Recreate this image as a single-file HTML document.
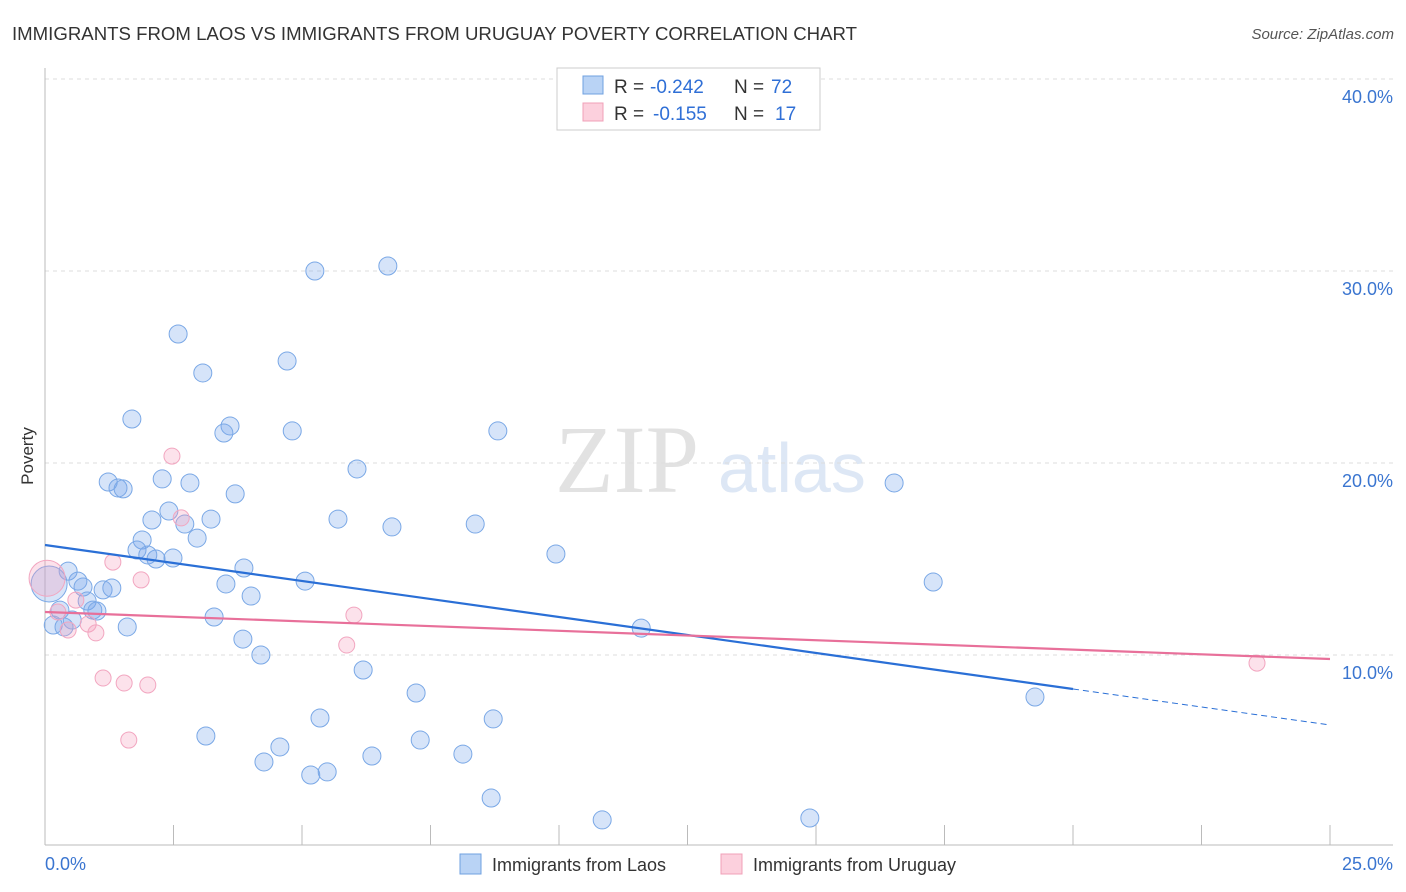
<!DOCTYPE html>
<html><head><meta charset="utf-8"><style>
body{margin:0;background:#fff;font-family:"Liberation Sans",sans-serif;}
svg{display:block}
</style></head><body>
<svg id="chart" width="1406" height="892" xmlns="http://www.w3.org/2000/svg" font-family="Liberation Sans, sans-serif">
<text x="12" y="40" font-size="18" fill="#333" textLength="845" lengthAdjust="spacingAndGlyphs">IMMIGRANTS FROM LAOS VS IMMIGRANTS FROM URUGUAY POVERTY CORRELATION CHART</text>
<text x="1394" y="39" font-size="15" fill="#555" font-style="italic" text-anchor="end">Source: ZipAtlas.com</text>
<text x="555" y="492" font-size="96" fill="#e2e2e2" font-family="Liberation Serif, serif">ZIP</text>
<text x="718" y="492" font-size="70" fill="#dde7f5">atlas</text>
<text transform="translate(33,456) rotate(-90)" font-size="17" fill="#333" text-anchor="middle">Poverty</text>
<g id="grid"></g><g id="axes"></g><g id="marks"></g>
<g>
<rect x="557" y="68" width="263" height="62" fill="#fff" stroke="#ccc"/>
<rect x="583" y="76" width="20" height="18" fill="#b9d3f5" stroke="#6fa0e0"/>
<rect x="583" y="103" width="20" height="18" fill="#fcd0dd" stroke="#f0a0b8"/>
<text x="614" y="93" font-size="19" fill="#333">R =</text>
<text x="650" y="93" font-size="19" fill="#2f6fd6">-0.242</text>
<text x="734" y="93" font-size="19" fill="#333">N =</text>
<text x="771" y="93" font-size="19" fill="#2f6fd6">72</text>
<text x="614" y="120" font-size="19" fill="#333">R =</text>
<text x="653" y="120" font-size="19" fill="#2f6fd6">-0.155</text>
<text x="734" y="120" font-size="19" fill="#333">N =</text>
<text x="775" y="120" font-size="19" fill="#2f6fd6">17</text>
</g>
<g>
<rect x="460" y="854" width="21" height="20" fill="#b9d3f5" stroke="#6fa0e0"/>
<text x="492" y="871" font-size="18" fill="#333">Immigrants from Laos</text>
<rect x="721" y="854" width="21" height="20" fill="#fcd0dd" stroke="#f0a0b8"/>
<text x="753" y="871" font-size="18" fill="#333">Immigrants from Uruguay</text>
</g>
</svg>
<script>
const yTicks=[10,20,30,40];
const yTickLabels=["10.0%","20.0%","30.0%","40.0%"];
const xTicks=[0,2.5,5,7.5,10,12.5,15,17.5,20,22.5,25];
const laosX=[5.25,6.67,2.59,4.71,3.07,1.69,3.60,3.48,4.81,8.81,6.07,1.23,2.28,1.42,1.52,2.82,3.70,16.52,2.41,2.08,3.23,2.72,5.70,6.75,8.37,2.96,1.89,1.79,2.00,2.16,2.49,9.94,3.87,0.45,0.64,0.74,5.06,3.52,17.28,1.13,1.30,0.08,4.01,0.82,0.93,1.01,0.29,3.29,0.53,0.16,0.37,1.60,11.6,3.85,4.20,6.19,7.22,19.26,5.35,8.72,3.13,7.30,4.57,6.36,8.13,4.26,5.49,5.17,8.68,10.84,14.88];
const laosY=[30.0,30.26,26.72,25.31,24.69,22.29,21.93,21.56,21.67,21.67,19.69,19.01,19.17,18.70,18.65,18.96,18.39,18.96,17.50,17.03,17.08,16.82,17.08,16.67,16.82,16.09,15.99,15.47,15.21,15.0,15.05,15.26,14.53,14.37,13.85,13.54,13.85,13.70,13.80,13.39,13.49,13.7,13.07,12.81,12.34,12.29,12.34,11.98,11.82,11.56,11.46,11.46,11.4,10.83,10.0,9.22,8.02,7.81,6.72,6.67,5.78,5.57,5.21,4.74,4.84,4.43,3.91,3.75,2.55,1.41,1.51];
const uruX=[2.47,2.65,1.32,1.87,0.04,0.60,0.25,0.84,0.99,0.45,6.01,5.87,1.13,1.54,2.00,1.63,23.58];
const uruY=[20.36,17.14,14.84,13.91,14.0,12.86,12.24,11.61,11.15,11.30,12.08,10.52,8.80,8.54,8.44,5.57,9.58];
const laosTrend=[15.73,-0.375];
const uruTrend=[12.24,-0.098];
const X=v=>45+v/25*1285, Y=v=>847-v*19.2;
const NS="http://www.w3.org/2000/svg";
function mk(t,a,p){const e=document.createElementNS(NS,t);for(const k in a)e.setAttribute(k,a[k]);p.appendChild(e);return e;}
const grid=document.getElementById('grid'),axes=document.getElementById('axes'),marks=document.getElementById('marks');
yTicks.forEach((t,i)=>{
 const l=mk('line',{x1:45,x2:1393,y1:Y(t),y2:Y(t),stroke:'#ddd','stroke-dasharray':'4,4'},grid);
 
 
 const tx=mk('text',{x:1393,y:Y(t)+24,'font-size':18,fill:'#3a75d0','text-anchor':'end'},axes);
 tx.textContent=yTickLabels[i];
 
 
});
const ax=mk('line',{x1:45,x2:45,y1:68,y2:845,stroke:'#bbb'},axes);


const bx=mk('line',{x1:45,x2:1393,y1:845,y2:845,stroke:'#bbb'},axes);


xTicks.forEach(t=>{
 const l=mk('line',{x1:X(t),x2:X(t),y1:825,y2:845,stroke:'#bbb'},axes);
 
 
});
const x0=mk('text',{x:45,y:870,'font-size':18,fill:'#3a75d0'},axes);x0.textContent='0.0%';


const x1=mk('text',{x:1393,y:870,'font-size':18,fill:'#3a75d0','text-anchor':'end'},axes);x1.textContent='25.0%';


laosX.forEach((v,i)=>{
 const c=mk('circle',{cx:X(v),cy:Y(laosY[i]),r:i==41?18:9,fill:'rgba(120,165,235,0.3)',stroke:'#7aa8e6','stroke-width':1},marks);
 
 
});
uruX.forEach((v,i)=>{
 const c=mk('circle',{cx:X(v),cy:Y(uruY[i]),r:i==4?18:8,fill:'rgba(245,160,190,0.3)',stroke:'#f2a6c0','stroke-width':1},marks);
 
 
});
const f=(t,x)=>t[0]+t[1]*x;
const l1=mk('line',{x1:X(0),y1:Y(f(laosTrend,0)),x2:X(20),y2:Y(f(laosTrend,20)),stroke:'#2a6fd6','stroke-width':2.2},marks);


const l2=mk('line',{x1:X(20),y1:Y(f(laosTrend,20)),x2:X(25),y2:Y(f(laosTrend,25)),stroke:'#2a6fd6','stroke-width':1,'stroke-dasharray':'6,4'},marks);


const l3=mk('line',{x1:X(0),y1:Y(f(uruTrend,0)),x2:X(25),y2:Y(f(uruTrend,25)),stroke:'#e8709a','stroke-width':2.2},marks);


</script>
</body></html>
